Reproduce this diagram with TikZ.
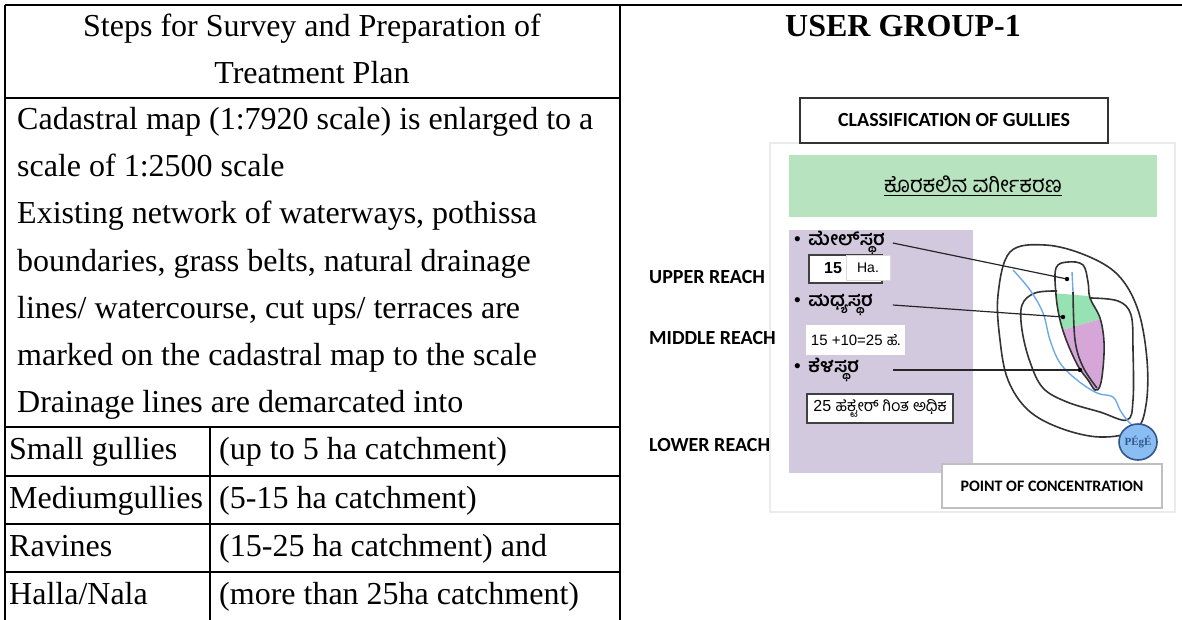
\documentclass[tikz,border=0pt]{standalone}
\usepackage{fontspec}
\setmainfont{Liberation Serif}
\newfontfamily\calibrifont{Carlito}
\newfontfamily\arialfont{Liberation Sans}
\newfontfamily\kannadafont[Script=Kannada]{Hind Mysuru}
\usetikzlibrary{shapes.geometric}

\definecolor{titlegreen}{RGB}{183,227,191}
\definecolor{panelpurple}{RGB}{210,201,223}
\definecolor{midgreen}{RGB}{150,226,178}
\definecolor{lowpurple}{RGB}{214,166,216}
\definecolor{streamblue}{RGB}{112,168,230}
\definecolor{poolblue}{RGB}{138,190,242}
\definecolor{poolrim}{RGB}{52,86,140}

\begin{document}
\begin{tikzpicture}[x=0.5pt, y=-0.5pt, line width=1.2pt]
\tikzset{
  txt/.style={anchor=base west, inner sep=0pt, font=\fontsize{16}{19}\selectfont},
  reach/.style={anchor=west, inner sep=0pt, font=\calibrifont\bfseries\fontsize{10}{12}\selectfont},
  kanitem/.style={anchor=west, inner sep=0pt, font=\kannadafont\bfseries\fontsize{9.5}{11}\selectfont},
  valbox/.style={draw=black!75, line width=0.8pt, fill=white, inner sep=0pt},
  pointer/.style={line width=0.6pt, black!85},
  contourline/.style={line width=0.8pt, black!80},
}
\useasboundingbox (0,0) rectangle (1182,620);

% table frame
\draw (5,5) -- (1182,5);
\draw (5,5) -- (5,620);
\draw (620,5) -- (620,620);
\draw (5,98) -- (620,98);
\foreach \y in {427,476,524,572} \draw (5,\y) -- (620,\y);
\draw (210,427) -- (210,620);

% left column
\node[txt, anchor=base] (hdr_a) at (312,37) {Steps for Survey and Preparation of};
\node[txt, anchor=base] (hdr_b) at (312,84) {Treatment Plan};
\foreach \t [count=\i] in {Cadastral map (1:7920 scale) is enlarged to a,
    scale of 1:2500 scale,
    {Existing network of waterways, pothissa},
    {boundaries, grass belts, natural drainage},
    {lines/ watercourse, cut ups/ terraces are},
    marked on the cadastral map to the scale,
    Drainage lines are demarcated into}
  \node[txt] (line_\i) at (16,{130+47*(\i-1)}) {\t};

\node[txt] (kind_a) at (8,459) {Small gullies};
\node[txt] (area_a) at (218,459) {(up to 5 ha catchment)};
\node[txt] (kind_b) at (8,508) {Mediumgullies};
\node[txt] (area_b) at (218,508) {(5-15 ha catchment)};
\node[txt] (kind_c) at (8,556) {Ravines};
\node[txt] (area_c) at (218,556) {(15-25 ha catchment) and};
\node[txt] (kind_d) at (8,604) {Halla/Nala};
\node[txt] (area_d) at (218,604) {(more than 25ha catchment)};

% right column
\node[anchor=base, inner sep=0pt, font=\bfseries\fontsize{16}{19}\selectfont] (group_node) at (903,37) {USER GROUP-1};

\draw[black!8, line width=0.6pt] (770,143) rectangle (1175,512);

\node[draw=black!80, line width=0.8pt, minimum width=154pt, minimum height=22.5pt,
  font=\calibrifont\bfseries\fontsize{10}{12}\selectfont] (class_node) at (954,120.5) {CLASSIFICATION OF GULLIES};

\node[fill=titlegreen, minimum width=184pt, minimum height=31pt, inner sep=0pt,
  font=\kannadafont\fontsize{11}{13}\selectfont] (green_node) at (973,186) {\underline{ಕೊರಕಲಿನ ವರ್ಗೀಕರಣ}};

\node[fill=panelpurple, minimum width=92pt, minimum height=121.5pt, inner sep=0pt] (panel_node) at (881,351.5) {};

\node[reach] (upper_reach) at (648,277) {UPPER REACH};
\node[reach] (middle_reach) at (648,338) {MIDDLE REACH};
\node[reach] (lower_reach) at (648,445) {LOWER REACH};

\node[kanitem] (upper_item) at (793,243) {{\arialfont\mdseries •}\hspace{3.8pt}ಮೇಲ್‌ಸ್ಥರ};
\node[valbox, minimum width=36.5pt, minimum height=14pt] (upper_val) at (845.5,269) {};
\node[inner sep=0pt, font=\arialfont\bfseries\fontsize{8}{9}\selectfont] (upper_num) at (833,268) {15};
\node[fill=white, draw=black!15, line width=0.4pt, minimum width=22pt, minimum height=12.5pt, inner sep=0pt,
  font=\arialfont\fontsize{7}{8}\selectfont] (upper_ha) at (868,267.5) {Ha.};

\node[kanitem] (middle_item) at (793,305) {{\arialfont\mdseries •}\hspace{3.8pt}ಮಧ್ಯಸ್ಥರ};
\node[fill=white, minimum width=49.5pt, minimum height=15pt, inner sep=0pt,
  font=\arialfont\fontsize{7.5}{9}\selectfont] (middle_val) at (855.5,340) {15 +10=25 {\kannadafont ಹೆ.}};

\node[kanitem] (lower_item) at (793,370) {{\arialfont\mdseries •}\hspace{3.8pt}ಕೆಳಸ್ಥರ};
\node[valbox, minimum width=73pt, minimum height=14.5pt,
  font=\arialfont\fontsize{8}{9}\selectfont] (lower_val) at (880,408.5) {25 {\kannadafont ಹೆಕ್ಟೇರ್ ಗಿಂತ ಅಧಿಕ}};

\node[draw=black!25, line width=0.8pt, fill=white, minimum width=110pt, minimum height=22pt,
  font=\calibrifont\bfseries\fontsize{8}{10}\selectfont] (point_node) at (1052,486) {POINT OF CONCENTRATION};

% catchment sketch
\draw[contourline] plot[smooth cycle, tension=0.6] coordinates {(1010,252) (1045,245) (1085,255) (1118,275)
  (1138,310) (1147,360) (1146,405) (1135,430) (1100,437) (1060,428) (1028,410) (1008,380) (1000,340) (998,295)};
\draw[contourline] plot[smooth, tension=0.6] coordinates {(1057,291) (1035,293) (1022,305) (1022,330)
  (1030,362) (1043,388) (1067,402) (1100,412) (1127,420) (1133,400) (1133,350) (1131,315) (1118,301) (1090,298)};

\begin{scope}
  \clip plot[smooth cycle, tension=0.6] coordinates {(1056,268) (1068,262) (1083,265) (1088,282) (1090,298)
    (1100,318) (1104,342) (1103,368) (1100,386) (1095,390) (1088,380) (1078,366) (1067,342) (1060,320) (1056,295)};
  \fill[midgreen] (1040,292) -- (1112,298) -- (1112,316) -- (1040,336) -- cycle;
  \fill[lowpurple] (1040,336) -- (1112,316) -- (1112,400) -- (1040,400) -- cycle;
\end{scope}
\draw[contourline] plot[smooth cycle, tension=0.6] coordinates {(1056,268) (1068,262) (1083,265) (1088,282) (1090,298)
  (1100,318) (1104,342) (1103,368) (1100,386) (1095,390) (1088,380) (1078,366) (1067,342) (1060,320) (1056,295)};

\draw[streamblue, line width=0.7pt] plot[smooth, tension=0.6] coordinates {(1013,270) (1030,290) (1043,313)
  (1050,340) (1060,363) (1077,380) (1097,393) (1113,397) (1120,410) (1127,420) (1135,428)};
\draw[streamblue, line width=0.7pt] (1072,272) -- (1073,292);
\draw[contourline] plot[smooth, tension=0.6] coordinates {(1073,292) (1075,340) (1083,367) (1097,388)};

\node[ellipse, draw=poolrim, fill=poolblue, line width=0.8pt, minimum width=15pt, minimum height=18pt, inner sep=0pt,
  text=poolrim, font=\bfseries\fontsize{5.5}{6}\selectfont] (pour_node) at (1138,442) {PÉgÉ};

% pointers from the reach names to the sketch
\coordinate (upper_tip) at (1067,279);
\coordinate (middle_tip) at (1063,317);
\coordinate (lower_tip) at (1080,370);
\draw[pointer] ([xshift=5pt]upper_item.east -| upper_val.east) -- (upper_tip);
\draw[pointer] ([xshift=5pt]middle_item.east -| upper_val.east) -- (middle_tip);
\draw[pointer] ([xshift=5pt]lower_item.east -| upper_val.east) -- (lower_tip);
\foreach \c in {upper_tip,middle_tip,lower_tip} \fill (\c) circle (1.1pt);
\end{tikzpicture}
\end{document}
